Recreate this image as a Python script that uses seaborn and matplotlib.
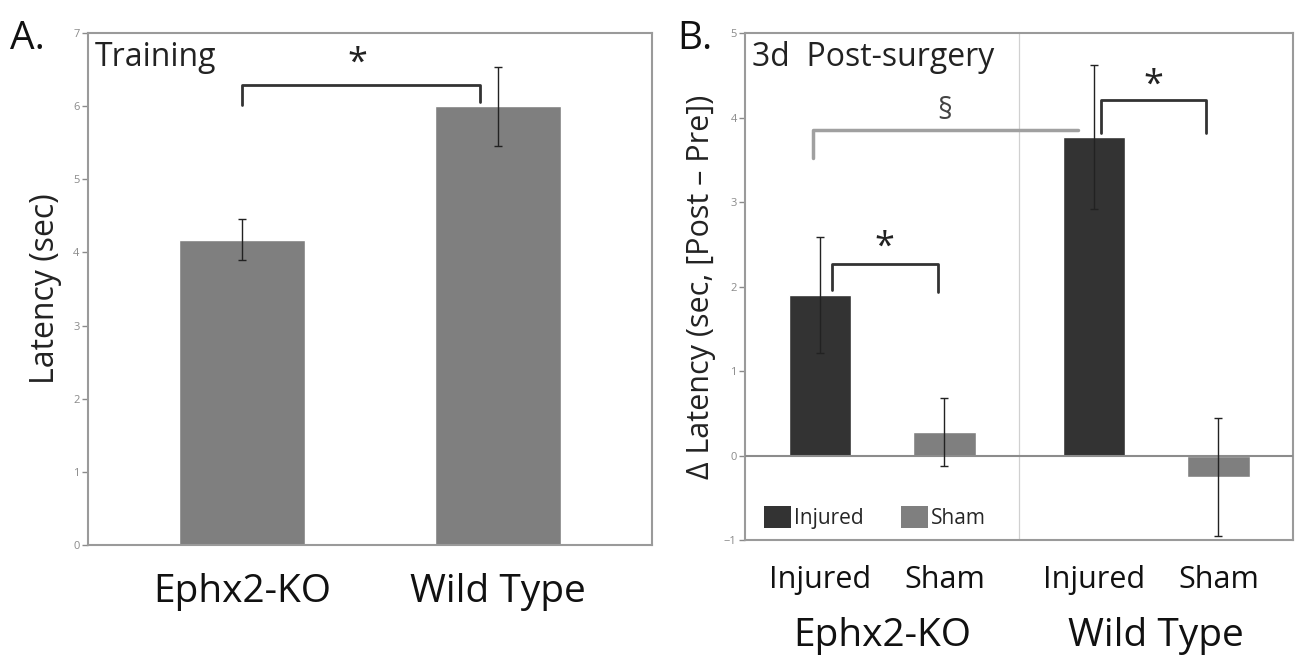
import numpy as np
import pandas as pd
import matplotlib
matplotlib.use("Agg")
import matplotlib.pyplot as plt
import matplotlib.transforms as mtransforms
from matplotlib.patches import Patch
import seaborn as sns

# Panel A: training latency
genotypes = ["Ephx2-KO", "Wild Type"]
train_latency = [4.17, 6.0]
train_err = [0.28, 0.54]

# Panel B: change in latency 3 days post-surgery
conditions = ["Injured", "Sham"]
post_genotype = ["Ephx2-KO", "Ephx2-KO", "Wild Type", "Wild Type"]
post_condition = ["Injured", "Sham", "Injured", "Sham"]
post_delta = [1.9, 0.28, 3.77, -0.25]
post_err = [0.69, 0.40, 0.85, 0.70]

sns.set_theme(style="white")
plt.rcParams["font.family"] = ["Open Sans", "DejaVu Sans"]

fig = plt.figure(figsize=(13.03, 6.6), dpi=100)
axA = fig.add_axes([0.0675, 0.1742, 0.433, 0.776])
axB = fig.add_axes([0.5718, 0.1818, 0.4206, 0.768])

frame_col = "#9a9a9a"
tick_col = "#8a8a8a"

# ---- Panel A ----
dfA = pd.DataFrame({"Genotype": genotypes, "Latency": train_latency})
sns.barplot(data=dfA, x="Genotype", y="Latency", color="#7f7f7f", width=0.49,
            saturation=1, errorbar=None, ax=axA)
axA.errorbar(range(len(genotypes)), train_latency, yerr=train_err, fmt="none",
             ecolor="#222222", elinewidth=1, capsize=3, capthick=1)
axA.set_xlim(-0.6, 1.6)
axA.set_ylim(0, 7)
axA.set_yticks(range(0, 8))
axA.set_xlabel("")
axA.set_ylabel("Latency (sec)", fontsize=23, labelpad=8, color="#222222")
axA.tick_params(axis="x", length=0, pad=20, labelsize=28, labelcolor="#111111")
axA.tick_params(axis="y", length=4, width=1, color=tick_col, labelsize=8,
                labelcolor=tick_col, left=True, pad=2)
for s in axA.spines.values():
    s.set_color(frame_col)
    s.set_linewidth(1.5)
axA.text(0.012, 0.985, "Training", transform=axA.transAxes, fontsize=23,
         va="top", ha="left", color="#222222")
# significance bracket
axA.plot([0, 0, 0.93, 0.93], [6.02, 6.29, 6.29, 6.05], color="#333333", lw=2)
axA.text(0.45, 6.33, "*", fontsize=26, ha="center", va="bottom", color="#222222")

# ---- Panel B ----
dfB = pd.DataFrame({"Genotype": post_genotype, "Condition": post_condition,
                    "Delta": post_delta})
sns.barplot(data=dfB, x="Genotype", y="Delta", hue="Condition",
            hue_order=conditions, palette={"Injured": "#333333", "Sham": "#7f7f7f"},
            width=0.91, gap=0.5, saturation=1, errorbar=None, ax=axB)

centers = []
for cont, cond in zip(axB.containers, conditions):
    for bar in cont:
        centers.append((bar.get_x() + bar.get_width() / 2, cond))
centers.sort()
bar_x = [c[0] for c in centers]
axB.errorbar(bar_x, post_delta, yerr=post_err, fmt="none", ecolor="#222222",
             elinewidth=1, capsize=3, capthick=1, zorder=4)

axB.axhline(0, color="#8c8c8c", lw=1.5, zorder=3)
axB.axvline(0.5, color="#d0d0d0", lw=0.9, zorder=0)
axB.set_xlim(-0.5, 1.5)
axB.set_ylim(-1, 5)
axB.set_yticks(range(-1, 6))
axB.set_xticks(bar_x)
axB.set_xticklabels([c[1] for c in centers])
axB.set_xlabel("")
axB.set_ylabel("\u0394 Latency (sec, [Post \u2013 Pre])", fontsize=22, labelpad=6,
               color="#222222")
axB.tick_params(axis="x", length=0, pad=18, labelsize=22, labelcolor="#111111")
axB.tick_params(axis="y", length=4, width=1, color=tick_col, labelsize=8,
                labelcolor=tick_col, left=True, pad=2)
for s in axB.spines.values():
    s.set_color(frame_col)
    s.set_linewidth(1.5)

trans = mtransforms.blended_transform_factory(axB.transData, axB.transAxes)
for gx, g in enumerate(genotypes):
    axB.text(gx, -0.19, g, transform=trans, fontsize=28, ha="center", va="center",
             color="#111111")

axB.text(0.012, 0.985, "3d  Post-surgery", transform=axB.transAxes, fontsize=23,
         va="top", ha="left", color="#222222")

# brackets
axB.plot([-0.252, -0.252, 0.715], [3.52, 3.85, 3.85], color="#a0a0a0", lw=2.5, zorder=2)
axB.text(0.23, 3.9, "\u00a7", fontsize=21, ha="center", va="bottom", color="#444444")
axB.plot([-0.182, -0.182, 0.204, 0.204], [1.96, 2.27, 2.27, 1.94], color="#333333", lw=2)
axB.text(0.01, 2.25, "*", fontsize=26, ha="center", va="bottom", color="#222222")
axB.plot([0.8, 0.8, 1.182, 1.182], [3.82, 4.21, 4.21, 3.82], color="#333333", lw=2)
axB.text(0.99, 4.17, "*", fontsize=26, ha="center", va="bottom", color="#222222")

handles = [Patch(facecolor="#333333", edgecolor="none"),
           Patch(facecolor="#7f7f7f", edgecolor="none")]
axB.legend(handles, conditions, loc="lower left", bbox_to_anchor=(0.0, -0.015),
           frameon=False, ncol=2, fontsize=15, handlelength=1.3, handleheight=1.2,
           handletextpad=0.15, columnspacing=1.8)

fig.text(0.008, 0.97, "A.", fontsize=28, ha="left", va="top", color="#111111")
fig.text(0.52, 0.97, "B.", fontsize=28, ha="left", va="top", color="#111111")

fig.savefig("out.png", dpi=100)
